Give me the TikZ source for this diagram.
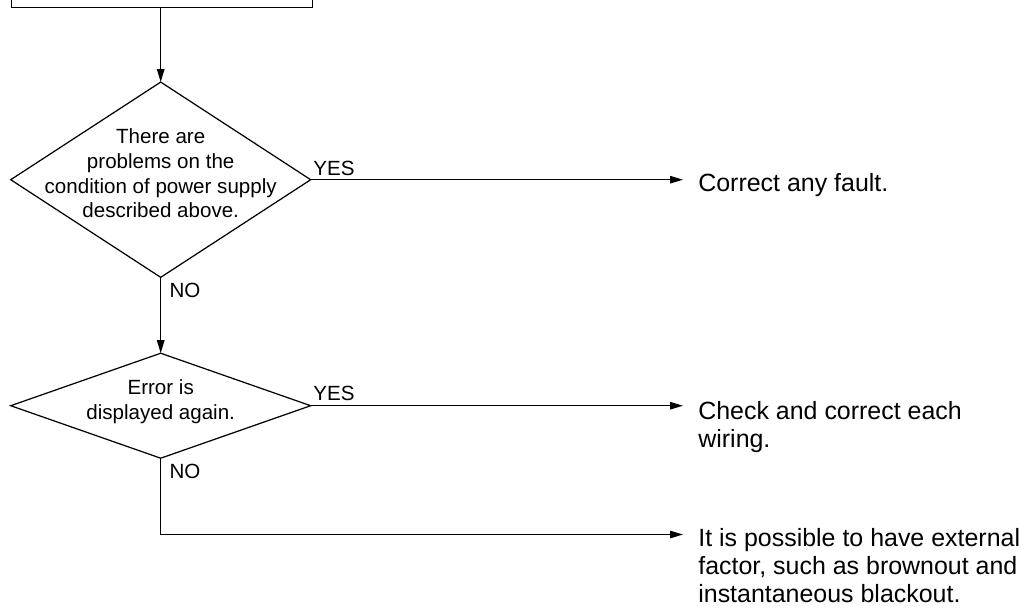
\documentclass[tikz,border=0pt]{standalone}
\usepackage{fontspec}
\setmainfont{Liberation Sans}
\usetikzlibrary{shapes.geometric,arrows.meta}
\begin{document}
\begin{tikzpicture}[
  x=0.02cm, y=-0.02cm,
  startbox/.style={rectangle, draw, line width=0.7pt, minimum width=6.02cm, minimum height=2cm, anchor=south},
  decision/.style={diamond, draw, line width=0.7pt, inner sep=0pt, outer sep=0pt, minimum width=6cm},
  qtext/.style={anchor=north, inner sep=0pt, align=center, font=\fontsize{11.7}{14.1}\selectfont},
  result/.style={anchor=north west, inner xsep=0.3cm, inner ysep=0pt, align=left, font=\fontsize{14.2}{16}\selectfont},
  answer/.style={anchor=base west, inner sep=0pt, font=\fontsize{11.7}{14.1}\selectfont},
  arrow/.style={-{Triangle[length=2.6mm, width=1.5mm]}, line width=0.7pt}
]
  \useasboundingbox (0,0) rectangle (1031,610);

  \node[startbox] (start) at (161.8, 8.3) {};

  \node[decision, minimum height=3.906cm] (q1) at (160.7, 179.7) {};
  \node[qtext] (q1t) at (160.7, 128.3) {There are\\problems on the\\condition of power supply\\described above.};
  \node[decision, minimum height=2.1cm] (q2) at (160.7, 405.7) {};
  \node[qtext] (q2t) at (160.7, 379.3) {Error is\\displayed again.};

  \node[result] (r1) at (683, 172.7) {Correct any fault.};
  \node[result] (r2) at (683, 400.7) {Check and correct each\\wiring.};
  \node[result] (r3) at (683, 527.7) {It is possible to have external\\factor, such as brownout and\\instantaneous blackout.};
  \coordinate (bend) at (160.7, 534.5);

  \node[answer] (yes1) at (313, 175) {YES};
  \node[answer] (no1)  at (169.3, 297.3) {NO};
  \node[answer] (yes2) at (313, 400.8) {YES};
  \node[answer] (no2)  at (169.3, 478.3) {NO};

  \draw[arrow] (q1.north |- start.south) -- (q1.north);
  \draw[arrow] (q1.east) -- (q1.east -| r1.west);
  \draw[arrow] (q1.south) -- (q2.north);
  \draw[arrow] (q2.east) -- (q2.east -| r2.west);
  \draw[arrow] (q2.south) -- (bend) -- (bend -| r3.west);
\end{tikzpicture}
\end{document}
